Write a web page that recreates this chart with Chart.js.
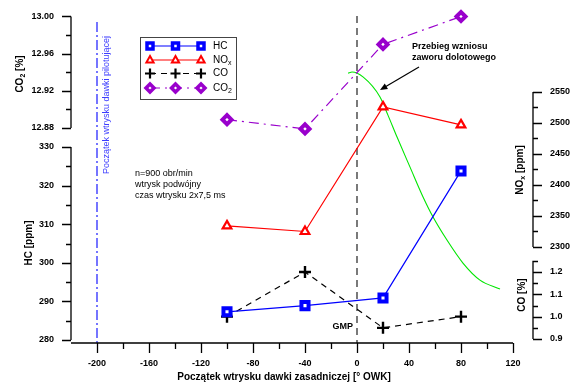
<!DOCTYPE html>
<html>
<head>
<meta charset="utf-8">
<script src="https://cdn.jsdelivr.net/npm/chart.js@4.4.0/dist/chart.umd.min.js"></script>
<style>
    html, body { margin: 0; padding: 0; background: #fff; }
    #wrap { width: 579px; height: 383px; }
</style>
</head>
<body>
<div id="wrap"><canvas id="chart" width="579" height="383"></canvas></div>
<script>
// Injection start of the main dose [deg OWK]
const injectionAngles = [-100, -40, 20, 80];
const hcValues = [287.3, 288.9, 290.9, 323.8];
const noxValues = [2334, 2325, 2526, 2497];
const coValues = [1.0, 1.2, 0.95, 1.0];
const co2Values = [12.889, 12.879, 12.970, 13.0];

// Intake valve lift trace (no scale shown in the original)
const liftAngles = [-6.9, -3.8, 4.6, 17.7, 23.8, 30.8, 40.8, 50.8, 58.5, 69.2, 81.5, 94.6, 110];
const liftValues = [9.96, 10.0, 9.82, 9.08, 8.41, 7.60, 6.49, 5.39, 4.65, 3.80, 2.95, 2.32, 1.99];

// Tick labels
const xTicks = [-200, -160, -120, -80, -40, 0, 40, 80, 120];
const hcTicks = ['280', '290', '300', '310', '320', '330'];
const co2Ticks = ['12.88', '12.92', '12.96', '13.00'];
const noxTicks = ['2300', '2350', '2400', '2450', '2500', '2550'];
const coTicks = ['0.9', '1.0', '1.1', '1.2'];

const pilotAngle = -200;
const tdcAngle = 0;

const AREA = { left: 71, right: 513, top: 10, bottom: 343 };
const FONT = '"Liberation Sans", Arial, sans-serif';

// axis range so that v1 sits at pixel p1 and v2 at pixel p2
function span(v1, p1, v2, p2) {
    const k = (v2 - v1) / (p2 - p1);
    return { min: v1 + (AREA.bottom - p1) * k, max: v1 + (AREA.top - p1) * k };
}

const hcRange = span(280, 340, 330, 147);
const co2Range = span(12.88, 128, 13.00, 16.5);
const noxRange = span(2300, 247, 2550, 92);
const coRange = span(0.9, 339, 1.2, 272);

const yAxes = [
    { id: 'co2', x: 71, dir: -1, from: 12.88, to: 13.00, minor: 0.02, labels: co2Ticks,
      title: [['CO', 0], ['2', 1], [' [%]', 0]], titleX: 20, titleY: 74 },
    { id: 'hc', x: 71, dir: -1, from: 280, to: 330, minor: 5, labels: hcTicks,
      title: [['HC [ppm]', 0]], titleX: 29, titleY: 243 },
    { id: 'nox', x: 533, dir: 1, from: 2300, to: 2550, minor: 25, labels: noxTicks,
      title: [['NO', 0], ['x', 1], [' [ppm]', 0]], titleX: 520, titleY: 170 },
    { id: 'co', x: 533, dir: 1, from: 0.9, to: 1.25, minor: 0.05, labels: coTicks,
      title: [['CO [%]', 0]], titleX: 522, titleY: 295 }
];

function pts(xs, ys) {
    return xs.map((x, i) => ({ x: x, y: ys[i] }));
}

function drawRich(ctx, parts, x, y, font, subFont, align) {
    let w = 0;
    parts.forEach(p => { ctx.font = p[1] ? subFont : font; w += ctx.measureText(p[0]).width; });
    let cx = align === 'center' ? x - w / 2 : (align === 'right' ? x - w : x);
    ctx.textAlign = 'left';
    ctx.textBaseline = 'middle';
    parts.forEach(p => {
        ctx.font = p[1] ? subFont : font;
        ctx.fillText(p[0], cx, p[1] ? y + 3 : y);
        cx += ctx.measureText(p[0]).width;
    });
}

function drawMarker(ctx, style, x, y, color) {
    ctx.save();
    ctx.strokeStyle = color;
    ctx.fillStyle = '#fff';
    ctx.beginPath();
    if (style === 'rect') {
        ctx.lineWidth = 3.5;
        ctx.rect(x - 3, y - 3, 6, 6);
        ctx.fill(); ctx.stroke();
    } else if (style === 'triangle') {
        ctx.lineWidth = 2;
        ctx.moveTo(x, y - 4); ctx.lineTo(x + 3.6, y + 2.5); ctx.lineTo(x - 3.6, y + 2.5);
        ctx.closePath();
        ctx.fill(); ctx.stroke();
    } else if (style === 'cross') {
        ctx.lineWidth = 2.2;
        ctx.moveTo(x - 5, y); ctx.lineTo(x + 5, y);
        ctx.moveTo(x, y - 5); ctx.lineTo(x, y + 5);
        ctx.stroke();
    } else if (style === 'rectRot') {
        ctx.lineWidth = 3.5;
        ctx.moveTo(x - 4, y); ctx.lineTo(x, y - 4); ctx.lineTo(x + 4, y); ctx.lineTo(x, y + 4);
        ctx.closePath();
        ctx.fill(); ctx.stroke();
    }
    ctx.restore();
}

const decorPlugin = {
    id: 'decor',
    beforeDatasetsDraw(chart) {
        const ctx = chart.ctx;
        const xs = chart.scales.x;
        ctx.save();

        // reference verticals
        ctx.lineWidth = 1.3;
        ctx.strokeStyle = '#2b2bff';
        ctx.setLineDash([10, 3, 2, 3]);
        ctx.beginPath();
        ctx.moveTo(xs.getPixelForValue(pilotAngle), 22);
        ctx.lineTo(xs.getPixelForValue(pilotAngle), AREA.bottom);
        ctx.stroke();
        ctx.strokeStyle = '#333';
        ctx.setLineDash([7, 5]);
        ctx.beginPath();
        ctx.moveTo(xs.getPixelForValue(tdcAngle), 16);
        ctx.lineTo(xs.getPixelForValue(tdcAngle), AREA.bottom);
        ctx.stroke();
        ctx.setLineDash([]);

        // x axis
        ctx.strokeStyle = '#000';
        ctx.fillStyle = '#000';
        ctx.lineWidth = 1.3;
        ctx.beginPath();
        ctx.moveTo(AREA.left, AREA.bottom);
        ctx.lineTo(AREA.right, AREA.bottom);
        for (let v = -200; v <= 120; v += 20) {
            const px = Math.round(xs.getPixelForValue(v)) + 0.5;
            const len = xTicks.includes(v) ? 10 : 6;
            ctx.moveTo(px, AREA.bottom);
            ctx.lineTo(px, AREA.bottom + len);
        }
        ctx.stroke();
        ctx.font = 'bold 9px ' + FONT;
        ctx.textAlign = 'center';
        ctx.textBaseline = 'middle';
        xTicks.forEach(v => ctx.fillText(String(v), xs.getPixelForValue(v), 364));
        ctx.font = 'bold 10px ' + FONT;
        ctx.fillText('Początek wtrysku dawki zasadniczej [° OWK]', 284, 377);

        // y axes
        yAxes.forEach(a => {
            const sc = chart.scales[a.id];
            ctx.lineWidth = 1.3;
            ctx.beginPath();
            ctx.moveTo(a.x, sc.getPixelForValue(a.from));
            ctx.lineTo(a.x, sc.getPixelForValue(a.to));
            const n = Math.round((a.to - a.from) / a.minor);
            for (let i = 0; i <= n; i++) {
                const v = a.from + i * a.minor;
                const py = Math.round(sc.getPixelForValue(v)) + 0.5;
                const major = a.labels.some(l => Math.abs(parseFloat(l) - v) < a.minor / 10);
                ctx.moveTo(a.x, py);
                ctx.lineTo(a.x + a.dir * (major ? 9 : 5), py);
            }
            ctx.stroke();
            ctx.font = 'bold 9px ' + FONT;
            ctx.textAlign = a.dir < 0 ? 'right' : 'left';
            ctx.textBaseline = 'middle';
            a.labels.forEach(l => {
                ctx.fillText(l, a.x + a.dir * 17, sc.getPixelForValue(parseFloat(l)));
            });
            ctx.save();
            ctx.translate(a.titleX, a.titleY);
            ctx.rotate(-Math.PI / 2);
            drawRich(ctx, a.title, 0, 0, 'bold 10px ' + FONT, 'bold 7px ' + FONT, 'center');
            ctx.restore();
        });
        ctx.restore();
    },
    afterDatasetsDraw(chart) {
        const ctx = chart.ctx;
        ctx.save();

        // pilot dose label
        ctx.save();
        ctx.translate(107, 105);
        ctx.rotate(-Math.PI / 2);
        ctx.fillStyle = '#3c3cff';
        ctx.font = '9px ' + FONT;
        ctx.textAlign = 'center';
        ctx.textBaseline = 'middle';
        ctx.fillText('Początek wtrysku dawki pilotującej', 0, 0);
        ctx.restore();

        ctx.fillStyle = '#000';
        ctx.font = '9px ' + FONT;
        ctx.textAlign = 'left';
        ctx.textBaseline = 'middle';
        ctx.fillText('n=900 obr/min', 135, 174);
        ctx.fillText('wtrysk podwójny', 135, 185);
        ctx.fillText('czas wtrysku 2x7,5 ms', 135, 196);

        ctx.font = 'bold 9px ' + FONT;
        ctx.fillText('Przebieg wzniosu', 412, 47);
        ctx.fillText('zaworu dolotowego', 412, 58);
        ctx.textAlign = 'right';
        ctx.fillText('GMP', 353, 327);

        // arrow to the valve lift trace
        ctx.strokeStyle = '#000';
        ctx.lineWidth = 1.2;
        ctx.beginPath();
        ctx.moveTo(419, 67);
        ctx.lineTo(385, 87);
        ctx.stroke();
        const ang = Math.atan2(90 - 67, 380 - 419);
        ctx.beginPath();
        ctx.moveTo(380, 90);
        ctx.lineTo(380 - 8 * Math.cos(ang - 0.4), 90 - 8 * Math.sin(ang - 0.4));
        ctx.lineTo(380 - 8 * Math.cos(ang + 0.4), 90 - 8 * Math.sin(ang + 0.4));
        ctx.closePath();
        ctx.fill();

        // legend
        ctx.strokeStyle = '#444';
        ctx.lineWidth = 1;
        ctx.strokeRect(140.5, 37.5, 96, 62);
        const rows = [46, 60, 73.5, 88];
        const names = [[['HC', 0]], [['NO', 0], ['x', 1]], [['CO', 0]], [['CO', 0], ['2', 1]]];
        chart.data.datasets.slice(0, 4).forEach((ds, i) => {
            const y = rows[i];
            ctx.strokeStyle = ds.borderColor;
            ctx.lineWidth = 1.2;
            ctx.setLineDash(ds.borderDash || []);
            ctx.beginPath();
            ctx.moveTo(150, y);
            ctx.lineTo(201, y);
            ctx.stroke();
            ctx.setLineDash([]);
            [150, 175.5, 201].forEach(mx => drawMarker(ctx, ds.pointStyle, mx, y, ds.pointBorderColor));
            ctx.fillStyle = '#000';
            drawRich(ctx, names[i], 213, y, '10px ' + FONT, '7px ' + FONT, 'left');
        });
        ctx.restore();
    }
};

new Chart(document.getElementById('chart'), {
    type: 'line',
    data: {
        datasets: [
            {
                label: 'HC', data: pts(injectionAngles, hcValues), yAxisID: 'hc',
                borderColor: '#0000ff', borderWidth: 1.2,
                pointStyle: 'rect', pointRadius: 5, pointBorderWidth: 4,
                pointBackgroundColor: '#ffffff', pointBorderColor: '#0000ff'
            },
            {
                label: 'NOx', data: pts(injectionAngles, noxValues), yAxisID: 'nox',
                borderColor: '#ff0000', borderWidth: 1.2,
                pointStyle: 'triangle', pointRadius: 5, pointBorderWidth: 2.2,
                pointBackgroundColor: '#ffffff', pointBorderColor: '#ff0000'
            },
            {
                label: 'CO', data: pts(injectionAngles, coValues), yAxisID: 'co',
                borderColor: '#000000', borderWidth: 1.2, borderDash: [6, 5],
                pointStyle: 'cross', pointRadius: 6, pointBorderWidth: 2.4,
                pointBorderColor: '#000000'
            },
            {
                label: 'CO2', data: pts(injectionAngles, co2Values), yAxisID: 'co2',
                borderColor: '#9900cc', borderWidth: 1.2, borderDash: [10, 5, 2, 5],
                pointStyle: 'rectRot', pointRadius: 4.5, pointBorderWidth: 4,
                pointBackgroundColor: '#ffffff', pointBorderColor: '#9900cc'
            },
            {
                label: 'lift', data: pts(liftAngles, liftValues), yAxisID: 'lift',
                borderColor: '#00e600', borderWidth: 1.1, pointRadius: 0,
                cubicInterpolationMode: 'monotone'
            }
        ]
    },
    options: {
        responsive: false,
        animation: false,
        events: [],
        layout: { padding: { left: AREA.left, right: 579 - AREA.right, top: AREA.top, bottom: 383 - AREA.bottom } },
        plugins: { legend: { display: false }, tooltip: { enabled: false } },
        datasets: { line: { clip: false } },
        scales: {
            x: { type: 'linear', min: -220, max: 120, display: false },
            hc: { type: 'linear', min: hcRange.min, max: hcRange.max, display: false },
            co2: { type: 'linear', min: co2Range.min, max: co2Range.max, display: false },
            nox: { type: 'linear', min: noxRange.min, max: noxRange.max, display: false },
            co: { type: 'linear', min: coRange.min, max: coRange.max, display: false },
            lift: { type: 'linear', min: 0, max: 12.29, display: false }
        }
    },
    plugins: [decorPlugin]
});
</script>
</body>
</html>
